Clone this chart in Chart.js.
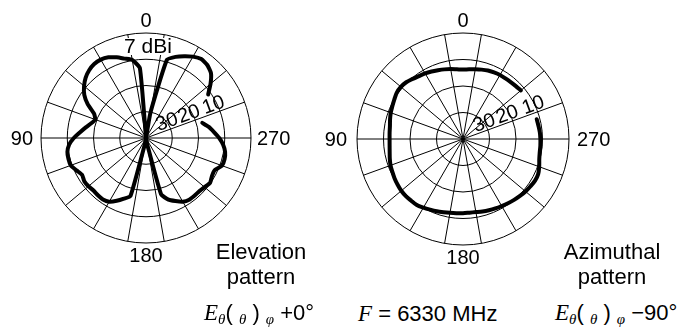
<!DOCTYPE html>
<html><head><meta charset="utf-8">
<script src="https://cdn.jsdelivr.net/npm/chart.js@4.4.0/dist/chart.umd.min.js"></script>
<style>
html,body{margin:0;padding:0;background:#fff;}
#wrap{position:relative;width:681px;height:329px;overflow:hidden;font-family:"Liberation Sans",Arial,sans-serif;color:#000;}
canvas{position:absolute;}
.cap{position:absolute;font-size:22px;line-height:22px;white-space:nowrap;transform:translateX(-50%);}
.eq{position:absolute;font-size:22px;line-height:24px;white-space:nowrap;}
.eq i{font-family:"Liberation Serif","Times New Roman",serif;font-style:italic;font-size:23px;}
.eq sub{font-family:"Liberation Serif","Times New Roman",serif;font-style:italic;font-size:15px;vertical-align:-4px;line-height:0;}
</style></head><body>
<div id="wrap">
<canvas id="elev" width="300" height="290" style="left:0;top:0"></canvas>
<canvas id="azim" width="340" height="290" style="left:300px;top:0"></canvas>
<div class="cap" style="left:261px;top:241px">Elevation</div>
<div class="cap" style="left:261px;top:266px">pattern</div>
<div class="cap" style="left:612px;top:241px">Azimuthal</div>
<div class="cap" style="left:612px;top:266px">pattern</div>
<div class="eq" style="left:204px;top:301px"><i>E</i><sub>θ</sub>( <sub>θ</sub> ) <sub>φ</sub> +0°</div>
<div class="eq" style="left:358px;top:302px"><i>F</i> = 6330 MHz</div>
<div class="eq" style="left:555px;top:301px"><i>E</i><sub>θ</sub>( <sub>θ</sub> ) <sub>φ</sub> −90°</div>
</div>
<script>
// Angles (degrees, counter-clockwise from top)
const ANGLES = [0,5,10,15,20,25,30,35,40,45,50,55,60,65,70,75,80,85,90,95,100,105,110,115,120,125,130,135,140,145,150,155,160,165,170,175,180,185,190,195,200,205,210,215,220,225,230,235,240,245,250,255,260,265,270,275,280,285,290,295,300,305,310,315,320,325,330,335,340,345,350,355];
// Relative level in dB (0 = 7 dBi outer ring); null = gap in trace
const ELEVATION_DB = [-40,-13.3,-9.8,-8.7,-7.3,-6.1,-5.5,-5.6,-6.3,-7.5,-9.2,-11.3,-14.4,-18.2,-19.4,-18.4,-16.7,-14.8,-12.5,-10.6,-9.6,-9.4,-9.5,-10.8,-11.9,-11.3,-11.4,-11.7,-11.5,-11.4,-12.0,-13.6,-15.4,-17.1,-38,-40,-40,-40,-38,-17.8,-15.0,-13.5,-12.0,-11.3,-11.3,-11.3,-10.9,-10.2,-11.0,-11.1,-9.2,-9.0,-9.4,-10.5,-12.1,-14.0,-15.7,-17.8,null,null,null,-11.1,-7.9,-5.0,-3.7,-3.3,-4.2,-5.6,-7.1,-9.1,-30,-40];
const AZIMUTH_DB = [-13.8,-13.6,-13.2,-12.8,-12.4,-11.9,-11.4,-11.0,-10.4,-9.7,-9.4,-9.5,-10.1,-10.6,-11.0,-11.5,-12.0,-12.2,-12.3,-12.2,-11.9,-11.4,-10.9,-10.6,-10.2,-9.9,-9.6,-9.5,-9.6,-9.6,-10.1,-10.6,-11.0,-11.4,-11.7,-11.9,-12.0,-12.1,-12.0,-11.7,-11.4,-11.1,-10.8,-10.4,-10.0,-9.6,-9.2,-8.9,-8.6,-8.7,-9.4,-10.2,-10.6,-10.7,-10.8,-10.9,-11.1,-11.2,null,null,null,null,-11.5,-11.8,-12.0,-12.1,-12.1,-12.3,-12.5,-12.9,-13.3,-13.6];
const SPOKE_ANGLES = [10,30,50,70,90,110,130,150,170,190,210,230,250,270,290,310,330,350];
const CARDINAL_ANGLES = [0,90,180,270];
const CARDINAL_TEXT = ['0','90','180','270'];
const RING_VALUES = [-30,-20,-10];
const RING_TEXT = ['30','20','10'];
const RING_LABEL_ANGLE = 290;
const PEAK_TEXT = '7 dBi';

const FONT = '"Liberation Sans", Arial, sans-serif';

const textPlugin = {
  id: 'polarText',
  afterDraw(chart) {
    const o = chart.options.plugins.polarText;
    const s = chart.scales.r;
    const ctx = chart.ctx;
    const R = s.drawingArea, cx = s.xCenter, cy = s.yCenter;
    const idxOf = a => ((360 - a) % 360) / 5;
    ctx.save();
    ctx.fillStyle = '#000';
    if (o.peak) {
      ctx.font = '21px ' + FONT;
      const w = ctx.measureText(PEAK_TEXT).width;
      const p = s.getPointPosition(0, R - 14);
      ctx.fillStyle = '#fff';
      ctx.fillRect(p.x - w / 2 - 2, p.y - 9, w + 6, 17);
      ctx.fillStyle = '#000';
      ctx.textAlign = 'center';
      ctx.textBaseline = 'middle';
      ctx.fillText(PEAK_TEXT, p.x + 2, p.y);
    }
    ctx.font = '20px ' + FONT;
    ctx.textAlign = 'center';
    ctx.textBaseline = 'alphabetic';
    RING_VALUES.forEach((v, i) => {
      const d = s.getDistanceFromCenterForValue(v) - o.ringShift[i];
      const p = s.getPointPosition(idxOf(RING_LABEL_ANGLE), d);
      ctx.save();
      ctx.translate(p.x, p.y);
      ctx.rotate(p.angle);
      ctx.fillText(RING_TEXT[i], 0, -2);
      ctx.restore();
    });
    ctx.font = '20px ' + FONT;
    const capH = 14.4;
    CARDINAL_ANGLES.forEach((a, i) => {
      const t = CARDINAL_TEXT[i];
      if (a === 0) {
        ctx.textAlign = 'center';
        ctx.fillText(t, cx, cy - R - 6);
      } else if (a === 180) {
        ctx.textAlign = 'center';
        ctx.fillText(t, cx, cy + R + 5 + capH);
      } else if (a === 90) {
        ctx.textAlign = 'right';
        ctx.fillText(t, cx - R - o.gapL, cy + capH / 2);
      } else {
        ctx.textAlign = 'left';
        ctx.fillText(t, cx + R + o.gapR, cy + capH / 2);
      }
    });
    ctx.restore();
  }
};

function makeChart(id, values, padding, tension, extra) {
  const n = ANGLES.length;
  const order = ANGLES.map((a, i) => (n - i) % n);
  const labels = order.map(k => ANGLES[k]);
  const data = order.map(k => values[k]);
  return new Chart(document.getElementById(id), {
    type: 'radar',
    data: {
      labels: labels,
      datasets: [{
        data: data,
        borderColor: '#000',
        borderWidth: 4,
        pointRadius: 0,
        fill: false,
        spanGaps: false,
        tension: tension,
        borderJoinStyle: 'round',
        borderCapStyle: 'round'
      }]
    },
    options: {
      responsive: false,
      animation: false,
      devicePixelRatio: 1,
      layout: { padding: padding },
      plugins: { legend: { display: false }, tooltip: { enabled: false }, polarText: extra },
      scales: {
        r: {
          min: -40, max: 0,
          ticks: { display: false, stepSize: 10 },
          grid: { circular: true, color: '#000', lineWidth: 1 },
          angleLines: {
            display: true, color: '#000',
            lineWidth: c => SPOKE_ANGLES.includes(Number(c.label)) ? 1 : 0
          },
          pointLabels: { display: false }
        }
      }
    },
    plugins: [textPlugin]
  });
}

makeChart('elev', ELEVATION_DB, { left: 41, right: 49, top: 33, bottom: 47 }, 0.15, { peak: true, gapL: 8, gapR: 6, ringShift: [1, 4, 4] });
makeChart('azim', AZIMUTH_DB, { left: 57, right: 71, top: 33, bottom: 45 }, 0.3, { peak: false, gapL: 10, gapR: 8, ringShift: [1, 3, 2] });
</script>
</body></html>
